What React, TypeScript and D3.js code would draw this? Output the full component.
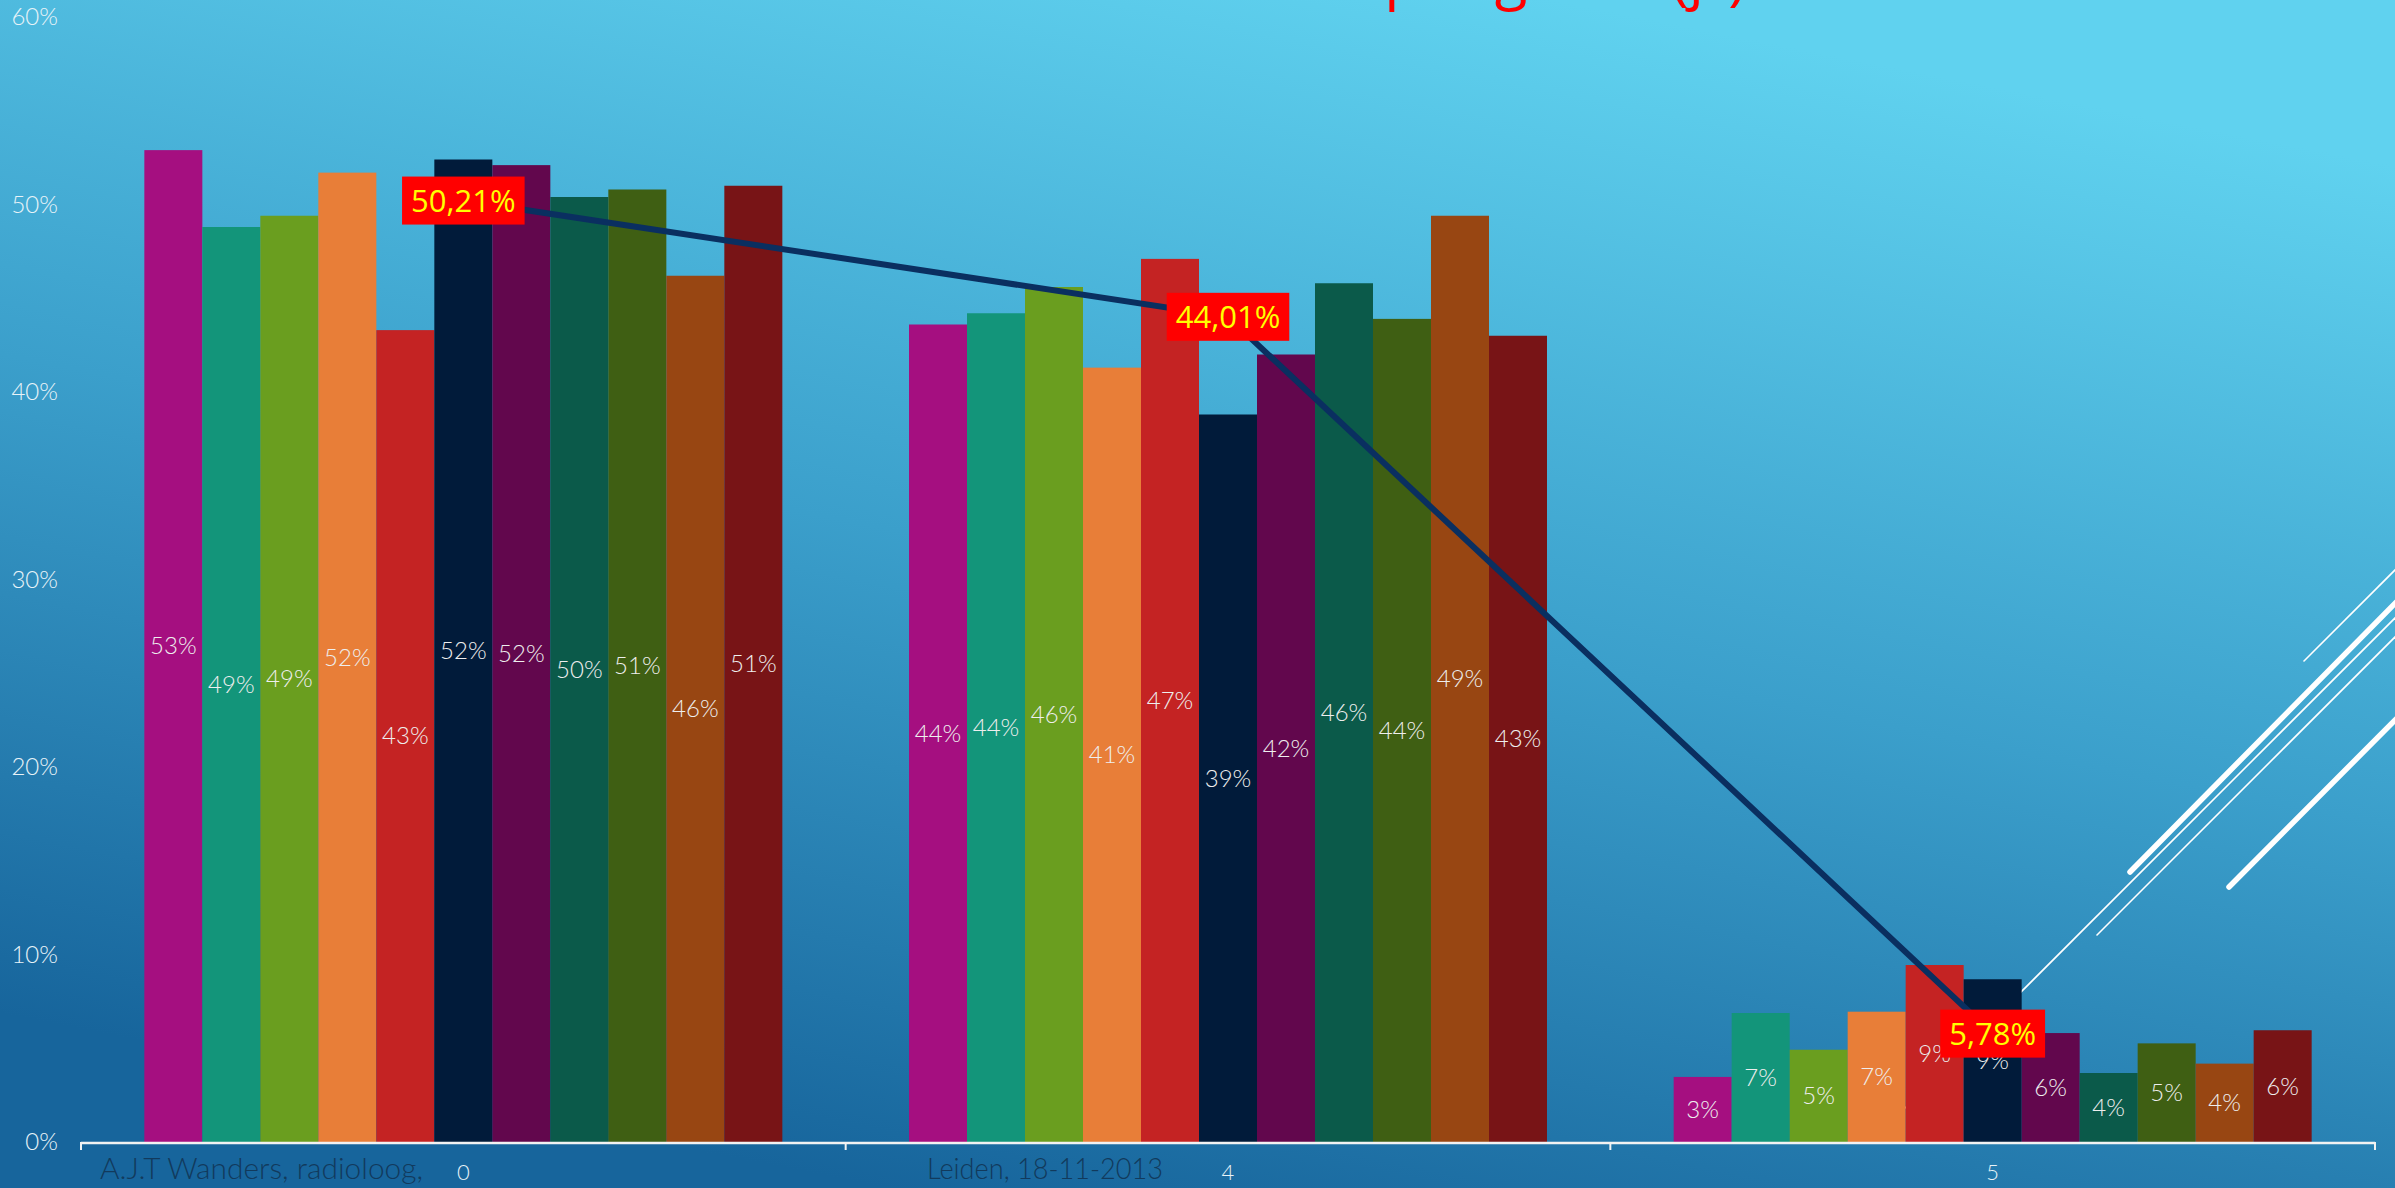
import React, { useEffect, useRef } from "react";
import * as d3 from "d3";

const W = 2395;
const H = 1188;

const categories = ["0", "4", "5"];
const seriesColors = [
  "#a50f80", "#13957a", "#6a9e1f", "#e87e38", "#c42323", "#011b3a",
  "#62074d", "#0b5a4a", "#3f5f13", "#984612", "#781416",
];
const group0 = [52.9, 48.8, 49.4, 51.7, 43.3, 52.4, 52.1, 50.4, 50.8, 46.2, 51.0];
const group4 = [43.6, 44.2, 45.6, 41.3, 47.1, 38.8, 42.0, 45.8, 43.9, 49.4, 43.0];
const group5 = [3.47, 6.88, 4.92, 6.95, 9.44, 8.68, 5.81, 3.68, 5.26, 4.18, 5.96];
const averages = [50.21, 44.01, 5.78];
const yTicks = [0, 10, 20, 30, 40, 50, 60];
const titleText = "Resultaten per graad (jr)";
const footerLeft = "A.J.T Wanders, radioloog,";
const footerMid = "Leiden, 18-11-2013";

// decorative slide strokes (x1,y1,x2,y2,width)
const decoLines = [
  [2304, 661, 2420, 545, 1.6],
  [2130, 872, 2420, 578, 5.5],
  [1871, 1142, 2420, 593, 1.6],
  [2097, 935, 2420, 612, 1.6],
  [2229, 887, 2420, 695, 5.5],
];

export default function App() {
  const ref = useRef<SVGSVGElement | null>(null);

  useEffect(() => {
    document.body.style.margin = "0";
    const svg = d3.select(ref.current);
    svg.selectAll("*").remove();

    const groups = [group0, group4, group5];

    const x0 = d3.scaleBand<string>().domain(categories).range([81, 2375]).paddingInner(0).paddingOuter(0);
    const x1 = d3.scaleBand<number>().domain(d3.range(seriesColors.length)).range([0, x0.bandwidth()]).paddingInner(0).paddingOuter(1.092);
    const y = d3.scaleLinear().domain([0, 60]).range([1142, 17]);

    const defs = svg.append("defs");
    const grad = defs.append("linearGradient").attr("id", "bg").attr("gradientUnits", "userSpaceOnUse")
      .attr("x1", 1350).attr("y1", -40).attr("x2", 1100).attr("y2", 1230);
    grad.append("stop").attr("offset", 0).attr("stop-color", "#60d2ef");
    grad.append("stop").attr("offset", 0.5).attr("stop-color", "#3b9fcb");
    grad.append("stop").attr("offset", 1).attr("stop-color", "#17659c");

    svg.append("rect").attr("width", W).attr("height", H).attr("fill", "url(#bg)");

    // title (mostly above the visible area)
    svg.append("text").attr("x", 1746).attr("y", -2).attr("text-anchor", "end")
      .attr("font-family", "Open Sans, sans-serif").attr("font-size", 60).attr("fill", "#ff0000")
      .text(titleText);

    // decorations
    svg.append("g").selectAll("line").data(decoLines).join("line")
      .attr("x1", (d) => d[0]).attr("y1", (d) => d[1]).attr("x2", (d) => d[2]).attr("y2", (d) => d[3])
      .attr("stroke", "#ffffff").attr("stroke-width", (d) => d[4]).attr("stroke-linecap", "round");

    // bars
    const gBars = svg.append("g");
    categories.forEach((c, ci) => {
      const g = gBars.append("g").attr("transform", `translate(${x0(c)},0)`);
      g.selectAll("rect").data(groups[ci]).join("rect")
        .attr("x", (_d, i) => x1(i)!).attr("width", x1.bandwidth())
        .attr("y", (d) => y(d)).attr("height", (d) => y(0) - y(d))
        .attr("fill", (_d, i) => seriesColors[i]);
      g.selectAll("text").data(groups[ci]).join("text")
        .attr("x", (_d, i) => x1(i)! + x1.bandwidth() / 2)
        .attr("y", (d) => (y(d) + y(0)) / 2).attr("dy", "0.35em")
        .attr("text-anchor", "middle").attr("font-family", "Lato, sans-serif").attr("font-weight", 300)
        .attr("font-size", 24).attr("fill", "#eeeeee").text((d) => `${Math.round(d)}%`);
    });

    // y tick labels
    svg.append("g").selectAll("text").data(yTicks).join("text")
      .attr("x", 58).attr("y", (d) => y(d)).attr("dy", "0.35em").attr("text-anchor", "end")
      .attr("font-family", "Lato, sans-serif").attr("font-weight", 300).attr("font-size", 24).attr("fill", "#e8f3f8")
      .text((d) => `${d}%`);

    // x axis
    const ax = svg.append("g");
    ax.append("line").attr("x1", 81).attr("x2", 2375).attr("y1", 1143).attr("y2", 1143)
      .attr("stroke", "#f2f2f2").attr("stroke-width", 2.5);
    const tickXs = [...categories.map((c) => x0(c)!), x0.range()[1]];
    ax.selectAll("line.t").data(tickXs).join("line").attr("class", "t")
      .attr("x1", (d) => d).attr("x2", (d) => d).attr("y1", 1142).attr("y2", 1150)
      .attr("stroke", "#f2f2f2").attr("stroke-width", 2);
    ax.selectAll("text").data(categories).join("text")
      .attr("x", (d) => x0(d)! + x0.bandwidth() / 2).attr("y", 1180).attr("text-anchor", "middle")
      .attr("font-family", "Lato, sans-serif").attr("font-weight", 300).attr("font-size", 22).attr("fill", "#e8f3f8").text((d) => d);

    // footer texts
    svg.append("text").attr("x", 100).attr("y", 1179).attr("font-family", "Lato, sans-serif").attr("font-weight", 300)
      .attr("font-size", 29).attr("fill", "#123a5c").attr("textLength", 323).attr("lengthAdjust", "spacingAndGlyphs")
      .text(footerLeft);
    svg.append("text").attr("x", 927).attr("y", 1179).attr("font-family", "Lato, sans-serif").attr("font-weight", 300)
      .attr("font-size", 29).attr("fill", "#123a5c").attr("textLength", 236).attr("lengthAdjust", "spacingAndGlyphs")
      .text(footerMid);

    // average line
    const pts = categories.map((c, i) => [x0(c)! + x0.bandwidth() / 2, y(averages[i])] as [number, number]);
    svg.append("path").attr("d", d3.line()(pts)!).attr("fill", "none")
      .attr("stroke", "#0a2f60").attr("stroke-width", 6);

    const fmt = (v: number) => v.toFixed(2).replace(".", ",") + "%";
    const lbl = svg.append("g");
    pts.forEach((p, i) => {
      const g = lbl.append("g").attr("transform", `translate(${p[0]},${p[1]})`);
      const rect = g.append("rect").attr("fill", "#ff0000");
      const t = g.append("text").attr("text-anchor", "middle").attr("dy", "0.36em")
        .attr("font-family", "Open Sans, sans-serif").attr("font-size", 31).attr("fill", "#ffff00")
        .text(fmt(averages[i]));
      const tw = (t.node() as SVGTextElement).getComputedTextLength();
      const bw = tw + 18;
      rect.attr("x", -bw / 2).attr("y", -24).attr("width", bw).attr("height", 48);
    });
  }, []);

  return (
    <svg ref={ref} width={W} height={H} style={{ position: "absolute", left: 0, top: 0, display: "block" }} />
  );
}
